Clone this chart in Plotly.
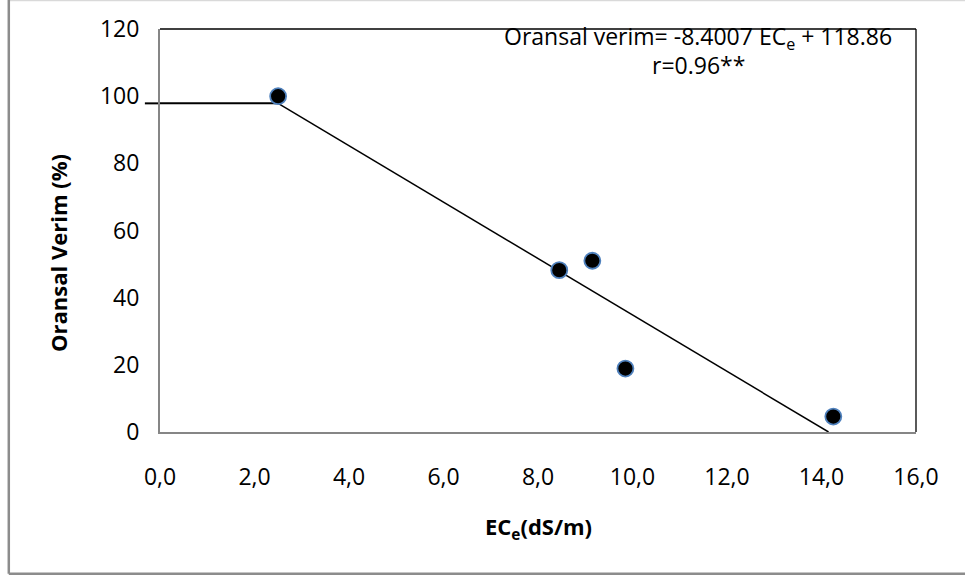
import plotly.graph_objects as go

# ---- data ----
ece = [2.5, 8.45, 9.15, 9.85, 14.25]           # EC_e (dS/m)
relative_yield = [100.0, 48.2, 51.0, 18.9, 4.6]  # Oransal verim (%)
slope = -8.4007
intercept = 118.86
threshold = 2.5          # start of the decline (plateau end)
x_ticks = [0, 2, 4, 6, 8, 10, 12, 14, 16]
x_tick_labels = ["0,0", "2,0", "4,0", "6,0", "8,0", "10,0", "12,0", "14,0", "16,0"]
y_ticks = [0, 20, 40, 60, 80, 100, 120]

FONT = "Open Sans"
plateau = slope * threshold + intercept
x_zero = -intercept / slope

fig = go.Figure()

# regression line (threshold model)
fig.add_trace(go.Scatter(
    x=[threshold, x_zero], y=[plateau, 0],
    mode="lines", line=dict(color="black", width=1.5),
    hoverinfo="skip", showlegend=False, cliponaxis=False))

# data points
fig.add_trace(go.Scatter(
    x=ece, y=relative_yield, mode="markers",
    marker=dict(size=16, color="black", line=dict(color="#4F81BD", width=1.8)),
    showlegend=False, cliponaxis=False))

shapes = [
    # plateau line inside plot
    dict(type="line", xref="x", yref="y", x0=0, x1=threshold, y0=plateau, y1=plateau,
         line=dict(color="black", width=2), layer="below"),
    # plateau line extension outside plot area
    dict(type="line", xref="paper", yref="y", x0=-0.02, x1=0, y0=plateau, y1=plateau,
         line=dict(color="black", width=2), layer="below"),
    # plot area top and right border
    dict(type="line", xref="paper", yref="paper", x0=0, x1=1, y0=1, y1=1,
         line=dict(color="black", width=1.3), layer="below"),
    dict(type="line", xref="paper", yref="paper", x0=1, x1=1, y0=0, y1=1,
         line=dict(color="black", width=1.3)),
    # outer chart border
    dict(type="line", xref="paper", yref="paper", x0=-0.2, x1=1.1, y0=1.071, y1=1.071,
         line=dict(color="#D9D9D9", width=1.5)),
    dict(type="line", xref="paper", yref="paper", x0=-0.2, x1=-0.2, y0=-0.352, y1=1.075,
         line=dict(color="#8C8C8C", width=2.5)),
    dict(type="line", xref="paper", yref="paper", x0=-0.2, x1=1.1, y0=-0.352, y1=-0.352,
         line=dict(color="#8C8C8C", width=2.5)),
]

annotations = [
    dict(text="Oransal verim= -8.4007 EC<sub>e</sub> + 118.86", xref="paper", yref="paper",
         x=0.712, y=0.978, xanchor="center", yanchor="middle", showarrow=False,
         font=dict(family=FONT, size=23, color="black")),
    dict(text="r=0.96**", xref="paper", yref="paper",
         x=0.712, y=0.91, xanchor="center", yanchor="middle", showarrow=False,
         font=dict(family=FONT, size=23, color="black")),
    dict(text="<b>EC<sub>e</sub>(dS/m)</b>", xref="paper", yref="paper",
         x=0.5, y=-0.238, xanchor="center", yanchor="middle", showarrow=False,
         font=dict(family=FONT, size=22, color="black")),
    dict(text="<b>Oransal Verim (%)</b>", xref="paper", yref="paper",
         x=-0.135, y=0.444, xanchor="center", yanchor="middle", showarrow=False,
         textangle=-90, font=dict(family=FONT, size=22, color="black")),
]

fig.update_layout(
    width=965, height=579,
    margin=dict(l=160, r=49, t=29, b=147),
    paper_bgcolor="white", plot_bgcolor="white",
    font=dict(family=FONT, size=23, color="black"),
    shapes=shapes, annotations=annotations,
    xaxis=dict(range=[0, 16], tickvals=x_ticks, ticktext=x_tick_labels,
               showgrid=False, zeroline=False, showline=True, linecolor="#868686",
               linewidth=2, ticks="outside", ticklen=0, tickcolor="white",
               ticklabelstandoff=23, tickfont=dict(family=FONT, size=23)),
    yaxis=dict(range=[0, 120], tickvals=y_ticks,
               showgrid=False, zeroline=False, showline=True, linecolor="#868686",
               linewidth=2, ticks="outside", ticklen=0, tickcolor="white",
               ticklabelstandoff=14, tickfont=dict(family=FONT, size=23)),
)

fig.write_html("out.html")
